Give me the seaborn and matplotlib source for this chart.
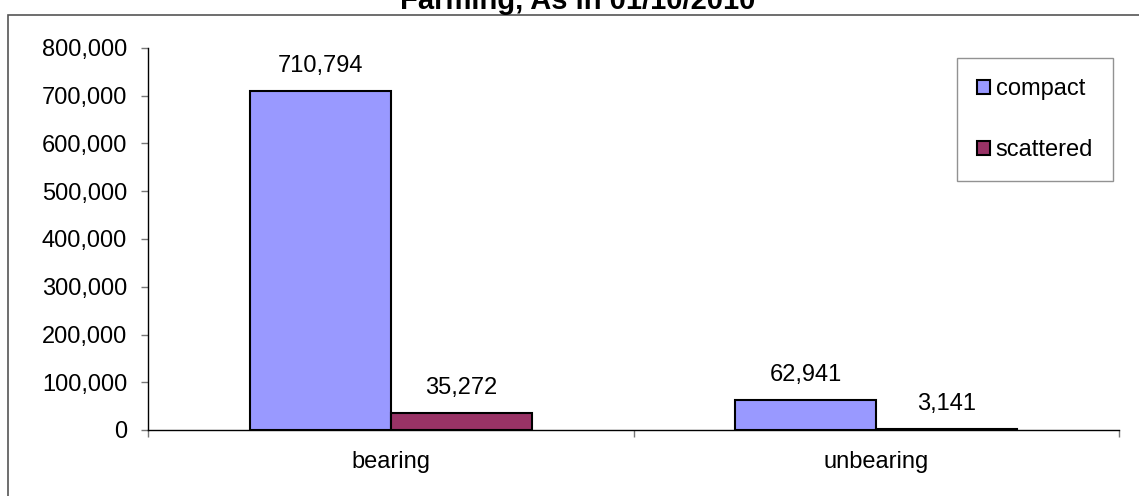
import matplotlib
matplotlib.use('Agg')
import matplotlib.pyplot as plt
from matplotlib.patches import Rectangle
from matplotlib.ticker import FuncFormatter
import seaborn as sns
import pandas as pd

categories = ['bearing', 'unbearing']
series = ['compact', 'scattered']
compact = [710794, 62941]
scattered = [35272, 3141]
colors = ['#9999FF', '#993366']

df = pd.DataFrame({
    'category': categories * 2,
    'type': [series[0]] * 2 + [series[1]] * 2,
    'value': compact + scattered,
})

sns.set_theme(style='white')
plt.rcParams['font.family'] = ['Liberation Sans', 'DejaVu Sans']
plt.rcParams['text.color'] = 'black'
plt.rcParams['xtick.labelcolor'] = 'black'
plt.rcParams['ytick.labelcolor'] = 'black'

fs = 17

fig = plt.figure(figsize=(11.39, 4.96), dpi=100)
ax = fig.add_axes([148 / 1139, 1 - 430 / 496, (1119 - 148) / 1139, (430 - 48) / 496])

# chart area border (runs off the right and bottom edges)
fig.patches.append(Rectangle((8 / 1139, -0.1), 1.2, 1.1 - 15 / 496,
                             transform=fig.transFigure, fill=False,
                             edgecolor='#555555', linewidth=1.2))

sns.barplot(data=df, x='category', y='value', hue='type', palette=colors,
            width=0.58, edgecolor='black', linewidth=1.5, ax=ax,
            saturation=1, errorbar=None)

for cont in ax.containers:
    ax.bar_label(cont, labels=[f'{v:,.0f}' for v in cont.datavalues],
                 padding=10, fontsize=fs, color='black')

ax.set_xlim(-0.5, 1.5)
ax.set_ylim(0, 800000)
ax.set_yticks(range(0, 800001, 100000))
ax.yaxis.set_major_formatter(FuncFormatter(lambda v, p: f'{v:,.0f}'))
ax.set_xticks([0, 1])
ax.set_xticks([-0.5, 0.5, 1.5], minor=True)
ax.tick_params(axis='x', which='major', length=0, pad=15, labelsize=fs)
ax.tick_params(axis='x', which='minor', length=5, color='#777777', width=1, direction='out', bottom=True)
ax.tick_params(axis='y', length=5, color='#777777', width=1, direction='out', left=True, labelsize=fs, pad=10)
ax.set_xlabel('')
ax.set_ylabel('')
for s in ['top', 'right']:
    ax.spines[s].set_visible(False)
for s in ['left', 'bottom']:
    ax.spines[s].set_color('black')
    ax.spines[s].set_linewidth(1)

leg = ax.legend(loc='upper right', bbox_to_anchor=(1113 / 1139, 1 - 58 / 496),
                bbox_transform=fig.transFigure, frameon=True, fancybox=False,
                edgecolor='#777777', fontsize=fs, handlelength=0.55, handleheight=0.55,
                handletextpad=0.25, labelspacing=1.65, borderpad=0.85, borderaxespad=0)
leg.get_frame().set_linewidth(1)
for h in leg.legend_handles:
    h.set_edgecolor('black')
    h.set_linewidth(1.5)

fig.text(0.507, 1 - 9 / 496, 'Farming, As in 01/10/2010', ha='center', va='baseline',
         fontsize=21, fontweight='bold')

fig.savefig('out.png', dpi=100, facecolor='white')
